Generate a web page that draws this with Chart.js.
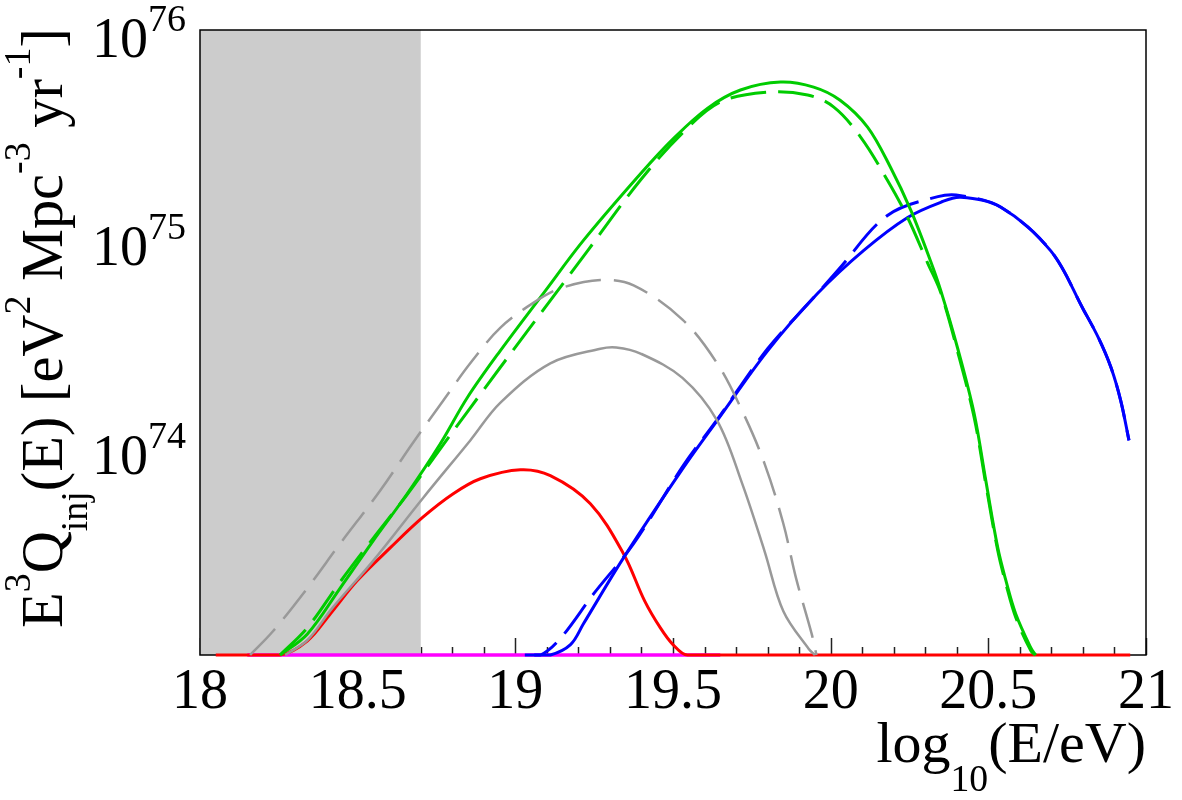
<!DOCTYPE html>
<html>
<head>
<meta charset="utf-8">
<script src="https://cdn.jsdelivr.net/npm/chart.js@4.4.1/dist/chart.umd.min.js"></script>
<style>
html,body{margin:0;padding:0;background:#ffffff;}
#wrap{width:1182px;height:800px;position:relative;}
</style>
</head>
<body>
<div id="wrap"><canvas id="c" width="1182" height="800"></canvas></div>
<script>
// ---------- data (x = log10(E/eV), y = log10 of E^3 Q_inj) ----------
const greenSolidX = [18.254,18.34,18.444,18.549,18.657,18.762,18.848,18.952,19.089,19.216,19.397,19.502,19.61,19.714,19.841,19.946,20.03,20.117,20.19,20.254,20.317,20.349,20.402,20.455,20.492,20.53,20.556,20.587,20.635,20.65];
const greenSolidY = [73.0,73.10,73.32,73.548,73.774,74.014,74.236,74.46,74.736,74.99,75.31,75.48,75.625,75.712,75.75,75.726,75.663,75.534,75.34,75.135,74.89,74.75,74.476,74.159,73.837,73.514,73.356,73.197,73.034,73.0];

const greenDashX = [18.254,18.34,18.444,18.549,18.657,18.762,18.952,19.229,19.397,19.533,19.65,19.8,19.927,20.01,20.095,20.18,20.244,20.308,20.349,20.402,20.455,20.492,20.53,20.556,20.587,20.635,20.65];
const greenDashY = [73.0,73.13,73.35,73.56,73.77,73.99,74.38,74.94,75.28,75.51,75.654,75.702,75.688,75.63,75.486,75.279,75.10,74.88,74.74,74.46,74.14,73.82,73.50,73.34,73.18,73.02,73.0];

const grayDashX = [18.159,18.232,18.34,18.444,18.571,18.676,18.771,18.857,18.952,19.057,19.143,19.27,19.375,19.53,19.64,19.72,19.79,19.85,19.89,19.94,19.955];
const grayDashY = [73.0,73.115,73.32,73.534,73.788,74.02,74.22,74.40,74.57,74.69,74.76,74.80,74.774,74.61,74.40,74.17,73.92,73.63,73.37,73.10,73.0];

const graySolidX = [18.27,18.34,18.42,18.549,18.708,18.857,18.952,19.111,19.27,19.32,19.397,19.53,19.64,19.72,19.79,19.85,19.93,19.95];
const graySolidY = [73.0,73.07,73.226,73.452,73.755,74.03,74.21,74.40,74.47,74.476,74.447,74.33,74.125,73.82,73.5,73.21,73.03,73.0];

const redX = [18.05,18.254,18.34,18.413,18.498,18.603,18.705,18.803,18.889,19.016,19.111,19.238,19.343,19.41,19.46,19.50,19.546,20.95];
const redY = [73.0,73.0,73.067,73.197,73.356,73.514,73.659,73.774,73.846,73.889,73.861,73.726,73.486,73.26,73.13,73.05,73.0,73.0];

const blueSolidX = [19.06,19.111,19.175,19.216,19.343,19.533,19.64,19.8,19.959,20.105,20.244,20.349,20.413,20.54,20.698,20.803,20.85,20.889,20.92,20.946];
const blueSolidY = [73.0,73.0,73.05,73.15,73.466,73.899,74.125,74.46,74.736,74.942,75.10,75.173,75.197,75.149,74.94,74.654,74.52,74.38,74.22,74.03];

const blueDashX = [19.03,19.08,19.143,19.248,19.375,19.533,19.64,19.8,19.937,20.025,20.18,20.34,20.413,20.54,20.698,20.803,20.85,20.889,20.92,20.946];
const blueDashY = [73.0,73.0,73.08,73.293,73.534,73.91,74.13,74.47,74.70,74.85,75.11,75.2,75.205,75.149,74.94,74.654,74.52,74.38,74.22,74.03];

const magentaX = [18.15,19.65];
const magentaY = [73.0,73.0];

const xTickLabels = ['18','18.5','19','19.5','20','20.5','21'];
const yTickExponents = ['74','75','76'];
const yTickValues = [1e74,1e75,1e76];
const shadedBand = [18.0, 18.7];

// ---------- font detection (pick an installed Times-like serif) ----------
function fontAvailable(name){
  const c = document.createElement('canvas').getContext('2d');
  const s = 'abcdefghijklmnopqrstuvwxyzMWQ0123456789';
  let diff = false;
  for (const base of ['monospace','sans-serif']){
    c.font = '40px ' + base; const w1 = c.measureText(s).width;
    c.font = '40px "' + name + '", ' + base; const w2 = c.measureText(s).width;
    if (Math.abs(w1 - w2) > 0.5) diff = true;
  }
  return diff;
}
const serifCandidates = ['Liberation Serif','Tinos','Times New Roman','Nimbus Roman','FreeSerif','DejaVu Serif','Noto Serif'];
let FAMILY = 'serif';
for (const f of serifCandidates){ if (fontAvailable(f)) { FAMILY = f; break; } }
const SERIF = '"' + FAMILY + '", serif';

// ---------- helpers ----------
function pts(xs, ys){ return xs.map((x,i)=>({x:x, y:Math.pow(10, ys[i])})); }

function richWidth(ctx, parts, F){
  let w = 0;
  for (const p of parts){
    const size = p.k === 'n' ? F : F*0.65;
    ctx.font = size + 'px ' + SERIF;
    w += ctx.measureText(p.t).width;
  }
  return w;
}
function drawRich(ctx, parts, x, y, F, supUp, subDown){
  let cx = x;
  ctx.textAlign = 'left';
  ctx.textBaseline = 'alphabetic';
  for (const p of parts){
    const size = p.k === 'n' ? F : F*0.65;
    const dy = p.k === 'sup' ? -supUp : (p.k === 'sub' ? subDown : 0);
    ctx.font = size + 'px ' + SERIF;
    ctx.fillText(p.t, cx, y + dy);
    cx += ctx.measureText(p.t).width;
  }
}

const yTitleParts = [
  {t:'E',k:'n'},{t:'3',k:'sup'},{t:'Q',k:'n'},{t:'inj',k:'sub'},{t:'(E) [eV',k:'n'},{t:'2',k:'sup'},
  {t:' Mpc',k:'n'},{t:'-3',k:'sup'},{t:' yr',k:'n'},{t:'-1',k:'sup'},{t:']',k:'n'}
];
const xTitleParts = [{t:'log',k:'n'},{t:'10',k:'sub'},{t:'(E/eV)',k:'n'}];

const decor = {
  id: 'decor',
  beforeDatasetsDraw(chart){
    const ctx = chart.ctx, ca = chart.chartArea, xs = chart.scales.x;
    ctx.save();
    ctx.strokeStyle = '#222';
    ctx.lineWidth = 1.5;
    for (let i = 0; i <= 30; i++){
      const v = 18 + i*0.1;
      const px = Math.round(xs.getPixelForValue(v)) + 0.5;
      const len = (i % 5 === 0) ? 17 : 8;
      ctx.beginPath();
      ctx.moveTo(px, ca.bottom);
      ctx.lineTo(px, ca.bottom - len);
      ctx.stroke();
    }
    const x0 = xs.getPixelForValue(shadedBand[0]);
    const x1 = xs.getPixelForValue(shadedBand[1]);
    ctx.fillStyle = '#cccccc';
    ctx.fillRect(x0, ca.top, x1 - x0, ca.bottom - ca.top);
    ctx.strokeStyle = '#000';
    ctx.lineWidth = 1.5;
    ctx.strokeRect(ca.left, ca.top, ca.right - ca.left, ca.bottom - ca.top);
    ctx.restore();
  },
  afterDatasetsDraw(chart){
    const ctx = chart.ctx, ca = chart.chartArea, ys = chart.scales.y;
    ctx.save();
    ctx.fillStyle = '#000';
    yTickValues.forEach((v, i) => {
      const py = ys.getPixelForValue(v);
      ctx.textBaseline = 'alphabetic';
      ctx.font = '56px ' + SERIF;
      ctx.textAlign = 'right';
      ctx.fillText('10', 148, py + 27);
      ctx.font = '38px ' + SERIF;
      ctx.textAlign = 'left';
      ctx.fillText(yTickExponents[i], 148, py + 1);
    });
    const FX = 58;
    const wx = richWidth(ctx, xTitleParts, FX);
    drawRich(ctx, xTitleParts, ca.right - wx, 762, FX, 30, 29);
    let FY = 58;
    const wy = richWidth(ctx, yTitleParts, FY);
    FY = Math.max(44, Math.min(64, FY * 600 / wy));
    ctx.save();
    ctx.translate(62, 628);
    ctx.rotate(-Math.PI/2);
    drawRich(ctx, yTitleParts, 0, 0, FY, FY*0.55, FY*0.42);
    ctx.restore();
    ctx.restore();
  }
};

function ds(xs, ys, color, width, dash){
  return {
    data: pts(xs, ys),
    borderColor: color,
    borderWidth: width,
    borderDash: dash || [],
    pointRadius: 0,
    fill: false,
    tension: 0.35,
    clip: false
  };
}

new Chart(document.getElementById('c'), {
  type: 'line',
  data: {
    datasets: [
      ds(grayDashX, grayDashY, '#999999', 2.5, [36,13]),
      ds(graySolidX, graySolidY, '#999999', 2.5),
      ds(greenDashX, greenDashY, '#00cc00', 3, [36,12]),
      ds(greenSolidX, greenSolidY, '#00cc00', 3),
      ds(blueDashX, blueDashY, '#0000ff', 3, [36,12]),
      ds(blueSolidX, blueSolidY, '#0000ff', 3),
      ds(redX, redY, '#ff0000', 3),
      ds(magentaX, magentaY, '#ff00ff', 3.5)
    ]
  },
  options: {
    responsive: false,
    animation: false,
    devicePixelRatio: 1,
    layout: { padding: { left: 200, right: 36, top: 30, bottom: 0 } },
    plugins: { legend: { display: false }, tooltip: { enabled: false } },
    scales: {
      x: {
        type: 'linear', min: 18, max: 21,
        grid: { display: false, drawTicks: false },
        border: { display: false },
        ticks: {
          stepSize: 0.5, autoSkip: false, maxRotation: 0, minRotation: 0,
          padding: 5, color: '#000',
          font: { family: SERIF, size: 56 },
          callback: (v) => { const i = Math.round((v - 18) * 2); return xTickLabels[i] !== undefined ? xTickLabels[i] : ''; }
        },
        afterFit: (s) => { s.height = 145; }
      },
      y: {
        type: 'logarithmic', min: 1e73, max: 1e76,
        display: false
      }
    }
  },
  plugins: [decor]
});
</script>
</body>
</html>
